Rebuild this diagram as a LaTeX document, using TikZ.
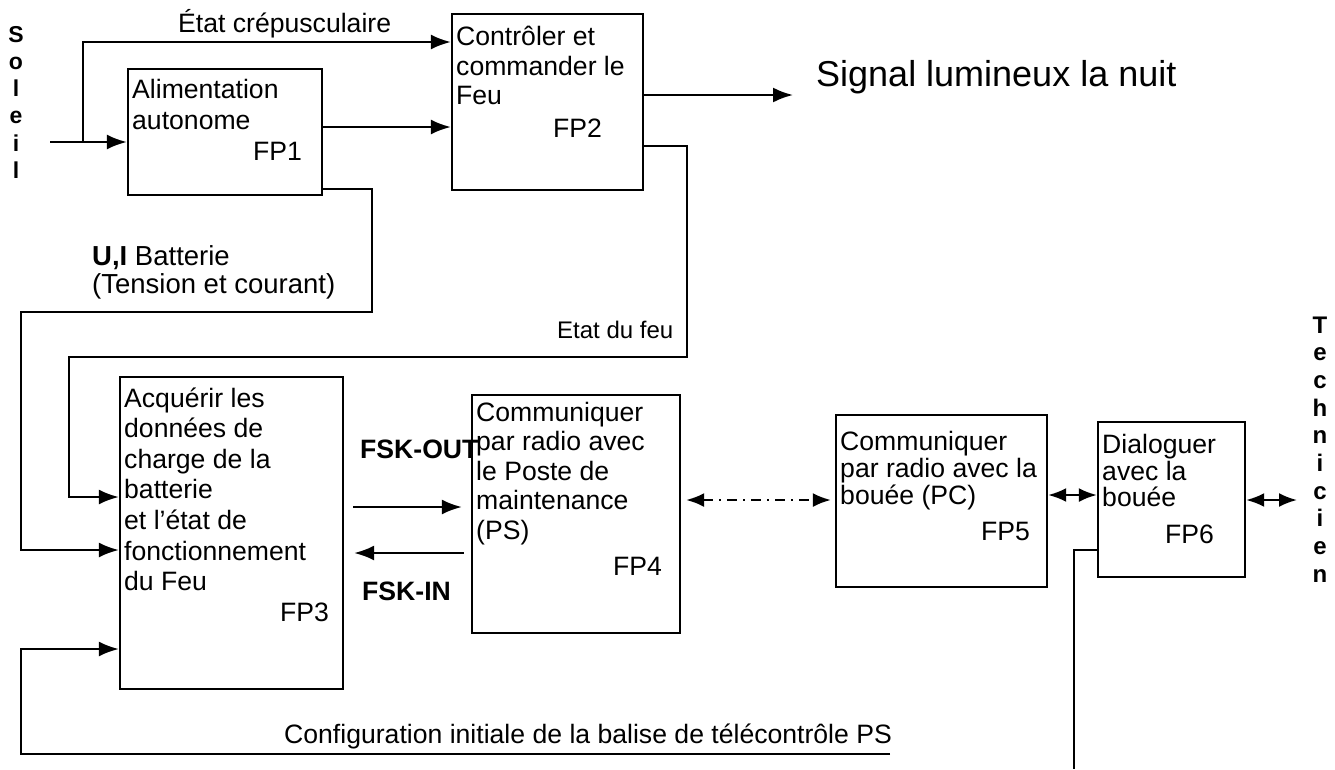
\documentclass[tikz,border=0pt]{standalone}
\usepackage{fontspec}
\setmainfont{Liberation Sans}
\usetikzlibrary{arrows.meta}
\begin{document}
\begin{tikzpicture}[x=1pt,y=-1pt,
  box/.style={draw, line width=2.3pt, inner sep=0pt},
  wire/.style={line width=2.3pt},
  arr/.style={wire, -{Latex[length=20pt,width=15pt]}},
  darr/.style={wire, {Latex[length=18pt,width=14pt]}-{Latex[length=18pt,width=14pt]}},
  txt/.style={inner sep=0pt, anchor=base west, font=\fontsize{26.6}{30}\selectfont},
  btxt/.style={inner sep=0pt, anchor=base west, font=\fontsize{26.6}{30}\selectfont\bfseries},
  vlet/.style={inner sep=0pt, anchor=base, font=\fontsize{23}{25}\selectfont\bfseries},
  tlet/.style={inner sep=0pt, anchor=base, font=\fontsize{24}{26}\selectfont\bfseries},
]
\useasboundingbox (0,0) rectangle (1335,769);

% boxes
\node[box, minimum width=194pt, minimum height=126pt] (fp1) at (225,132) {};
\node[box, minimum width=191pt, minimum height=176pt] (fp2) at (547.5,102) {};
\node[box, minimum width=223pt, minimum height=312pt] (fp3) at (231.5,533) {};
\node[box, minimum width=208pt, minimum height=238pt] (fp4) at (576,514) {};
\node[box, minimum width=211pt, minimum height=172pt] (fp5) at (941.5,501) {};
\node[box, minimum width=147pt, minimum height=155pt] (fp6) at (1171.5,499.5) {};

% box texts
\node[txt] (t1a) at (132,98) {Alimentation};
\node[txt] (t1b) at (132,129) {autonome};
\node[txt] (t1c) at (253,160) {FP1};

\node[txt] (t2a) at (456,45) {Contrôler et};
\node[txt] (t2b) at (456,75) {commander le};
\node[txt] (t2c) at (456,104) {Feu};
\node[txt] (t2d) at (553,137) {FP2};

\node[txt] (t3a) at (124,407) {Acquérir les};
\node[txt] (t3b) at (124,437.6) {données de};
\node[txt] (t3c) at (124,468.2) {charge de la};
\node[txt] (t3d) at (124,498.8) {batterie};
\node[txt] (t3e) at (124,529.4) {et l’état de};
\node[txt] (t3f) at (124,560) {fonctionnement};
\node[txt] (t3g) at (124,590.6) {du Feu};
\node[txt] (t3h) at (280,621) {FP3};

\node[txt] (t4a) at (476,421) {Communiquer};
\node[txt] (t4b) at (476,450.5) {par radio avec};
\node[txt] (t4c) at (476,480) {le Poste de};
\node[txt] (t4d) at (476,509.5) {maintenance};
\node[txt] (t4e) at (476,539) {(PS)};
\node[txt] (t4f) at (613,575) {FP4};

\node[txt] (t5a) at (840,450) {Communiquer};
\node[txt] (t5b) at (840,477) {par radio avec la};
\node[txt] (t5c) at (840,504) {bouée (PC)};
\node[txt] (t5d) at (981,540) {FP5};

\node[txt] (t6a) at (1102,453) {Dialoguer};
\node[txt] (t6b) at (1102,480) {avec la};
\node[txt] (t6c) at (1102,506) {bouée};
\node[txt] (t6d) at (1165,543) {FP6};

% other labels
\node[txt] (etatc) at (178,32) {État crépusculaire};
\node[inner sep=0pt, anchor=base west, font=\fontsize{36}{40}\selectfont] (signal) at (816,86) {Signal lumineux la nuit};
\node[inner sep=0pt, anchor=base west, font=\fontsize{27.5}{31}\selectfont] (ui) at (92,265) {\textbf{U,I} Batterie};
\node[inner sep=0pt, anchor=base west, font=\fontsize{27.5}{31}\selectfont] (tc) at (92,293) {(Tension et courant)};
\node[inner sep=0pt, anchor=base west, font=\fontsize{24}{28}\selectfont] (edf) at (557,338) {Etat du feu};
\node[btxt] (fskout) at (360,458) {FSK-OUT};
\node[btxt] (fskin) at (362,600) {FSK-IN};
\node[txt] (config) at (284,743) {Configuration initiale de la balise de télécontrôle PS};

\foreach \c [count=\i] in {S,o,l,e,i,l}
  \node[vlet] (sol\i) at (16,{42+27.3*(\i-1)}) {\c};
\foreach \c [count=\i] in {T,e,c,h,n,i,c,i,e,n}
  \node[tlet] (tech\i) at (1320,{333+27.7*(\i-1)}) {\c};

% coordinates
\coordinate (sun) at (50,142);
\coordinate (br) at (83,142);
\coordinate (yec) at (0,42);
\coordinate (y12) at (0,127);
\coordinate (sig) at (793,95);
\coordinate (ui1) at (372,189);
\coordinate (ui2) at (372,312);
\coordinate (ui3) at (21,312);
\coordinate (ui4) at (21,550);
\coordinate (ef1) at (687,146);
\coordinate (ef2) at (687,357);
\coordinate (ef3) at (69,357);
\coordinate (ef4) at (69,497);
\coordinate (cf1) at (890,754);
\coordinate (cf2) at (21,754);
\coordinate (cf3) at (21,649);
\coordinate (fo) at (0,507);
\coordinate (fi) at (0,553);
\coordinate (dd) at (0,500);
\coordinate (d56) at (0,495);
\coordinate (dt) at (1297,500);
\coordinate (f6a) at (1074,550);
\coordinate (f6b) at (1074,769);

% connectors
\draw[arr] (sun) -- (fp1.west |- sun);
\draw[arr] (br) |- (fp2.west |- yec);
\draw[arr] (fp1.east |- y12) -- (fp2.west |- y12);
\draw[arr] (fp2.east |- sig) -- (sig);
\draw[arr] (fp1.east |- ui1) -- (ui1) -- (ui2) -- (ui3) -- (ui4) -- (fp3.west |- ui4);
\draw[arr] (fp2.east |- ef1) -- (ef1) -- (ef2) -- (ef3) -- (ef4) -- (fp3.west |- ef4);
\draw[arr] (cf1) -- (cf2) -- (cf3) -- (fp3.west |- cf3);
\draw[arr, shorten <=9pt, shorten >=9pt] (fp3.east |- fo) -- (fp4.west |- fo);
\draw[arr, shorten <=7pt, shorten >=10pt] (fp4.west |- fi) -- (fp3.east |- fi);
\draw[darr, dash pattern=on 10pt off 6pt on 2pt off 6pt, shorten <=5pt, shorten >=4pt] (fp4.east |- dd) -- (fp5.west |- dd);
\draw[darr] (fp5.east |- d56) -- (fp6.west |- d56);
\draw[darr] (fp6.east |- dt) -- (dt);
\draw[wire, line width=1.8pt] (fp6.west |- f6a) -- (f6a) -- (f6b);
\end{tikzpicture}
\end{document}
